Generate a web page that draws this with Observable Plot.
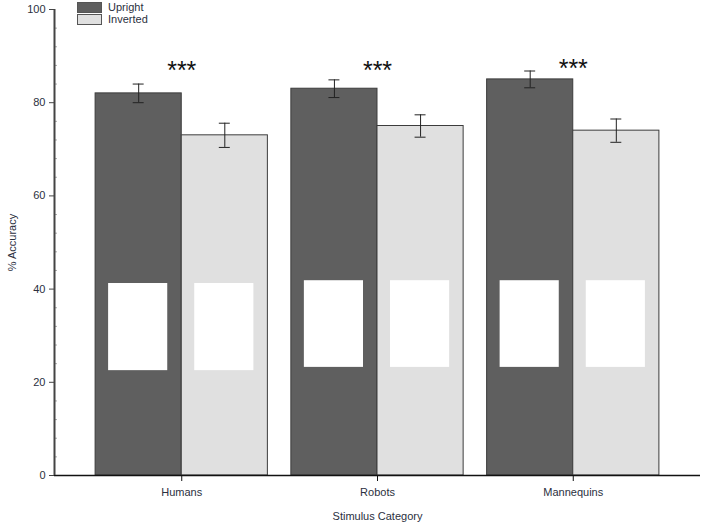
<!DOCTYPE html>
<html><head><meta charset="utf-8">
<script src="https://cdn.jsdelivr.net/npm/d3@7"></script>
<script src="https://cdn.jsdelivr.net/npm/@observablehq/plot@0.6"></script>
<style>
body{margin:0;background:#fff;font-family:"Liberation Sans",Arial,sans-serif;}
#wrap{position:relative;width:704px;height:523px;}
#wrap svg{position:absolute;left:0;top:0;}
#legend{position:absolute;left:77px;top:1px;font-size:11px;color:#2b3040;line-height:12px;}
.item{display:flex;align-items:center;height:12px;}
.sw{width:25px;height:11px;border:1px solid #555;margin-right:6px;box-sizing:border-box;}
</style></head><body><div id="wrap"></div>
<script>
const categories = ["Humans", "Robots", "Mannequins"];
const conditions = ["Upright", "Inverted"];
const upright = [82, 83, 85];
const inverted = [73, 75, 74];
const uprightErr = [2.0, 1.9, 1.8];
const invertedErr = [2.6, 2.4, 2.5];
const sigLabels = ["***", "***", "***"];
const sigY = [86.8, 86.8, 87.3];
const photoTop = [41.2, 41.8, 41.8];
const photoBottom = [22.5, 23.2, 23.2];
const yMajorTicks = [0, 20, 40, 60, 80, 100];
const yMinorTicks = [4, 8, 12, 16, 24, 28, 32, 36, 44, 48, 52, 56, 64, 68, 72, 76, 84, 88, 92, 96];
const colors = ["#5f5f5f", "#e0e0e0"];

// layout constants (in category-index units)
const groupWidth = 0.88;
const capHalf = 0.028;

const rows = [];
categories.forEach((c, i) => {
  conditions.forEach((cond, j) => {
    const x1 = i - groupWidth / 2 + j * groupWidth / 2;
    const x2 = x1 + groupWidth / 2;
    const v = j === 0 ? upright[i] : inverted[i];
    const e = j === 0 ? uprightErr[i] : invertedErr[i];
    rows.push({category: c, idx: i, condition: cond, value: v, err: e, x1, x2, cx: (x1 + x2) / 2, pTop: photoTop[i], pBot: photoBottom[i]});
  });
});
const sig = categories.map((c, i) => ({idx: i, label: sigLabels[i], y: sigY[i]}));

const chart = Plot.plot({
  width: 704, height: 523,
  marginTop: 9, marginBottom: 48, marginLeft: 54, marginRight: 4,
  style: {fontFamily: "Liberation Sans, Arial, sans-serif", fontSize: "11px", color: "#2b3040", background: "transparent", overflow: "visible"},
  x: {domain: [-0.65, 2.65]},
  y: {domain: [0, 100]},
  color: {domain: conditions, range: colors},
  marks: [
    Plot.rectY(rows, {x1: "x1", x2: "x2", y: "value", fill: "condition", stroke: "#3c3c3c", strokeWidth: 1}),
    Plot.rectY(rows, {x1: "x1", x2: "x2", y1: "pBot", y2: "pTop", fill: "white", insetLeft: 13, insetRight: 14}),
    Plot.ruleX(rows, {x: "cx", y1: d => d.value - d.err, y2: d => d.value + d.err, stroke: "#222", strokeWidth: 1}),
    Plot.ruleY(rows, {y: d => d.value - d.err, x1: d => d.cx - capHalf, x2: d => d.cx + capHalf, stroke: "#222"}),
    Plot.ruleY(rows, {y: d => d.value + d.err, x1: d => d.cx - capHalf, x2: d => d.cx + capHalf, stroke: "#222"}),
    Plot.text(sig, {x: "idx", y: "y", text: "label", fontSize: 25, fill: "#111"}),
    Plot.ruleY([0], {stroke: "#111", strokeWidth: 1.5}),
    Plot.axisX({ticks: categories.map((c, i) => i), tickFormat: i => categories[i], tickSize: 6, tickPadding: 7, label: "Stimulus Category", labelAnchor: "center", labelArrow: "none", labelOffset: 44, stroke: "#111"}),
    Plot.axisY({ticks: yMajorTicks, tickSize: 5, label: "% Accuracy", labelAnchor: "center", labelArrow: "none", labelOffset: 46, stroke: "#444"}),
    Plot.axisY({ticks: yMinorTicks, tickSize: -3, text: null, label: null, stroke: "#aaa"}),
    Plot.ruleX([-0.65], {stroke: "#444", strokeWidth: 2})
  ]
});
const wrap = document.getElementById("wrap");
wrap.appendChild(chart);

const legend = document.createElement("div");
legend.id = "legend";
conditions.forEach((c, i) => {
  const item = document.createElement("div");
  item.className = "item";
  const sw = document.createElement("div");
  sw.className = "sw";
  sw.style.background = colors[i];
  const t = document.createElement("span");
  t.textContent = c;
  item.appendChild(sw); item.appendChild(t);
  legend.appendChild(item);
});
wrap.appendChild(legend);
</script></body></html>
